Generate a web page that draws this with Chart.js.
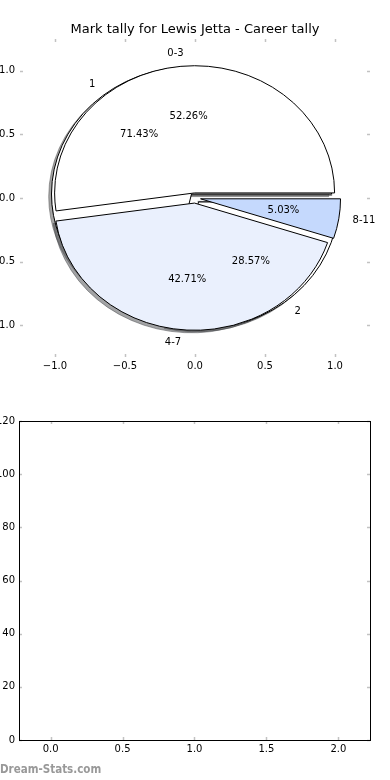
<!DOCTYPE html>
<html>
<head>
<meta charset="utf-8">
<script src="https://cdn.jsdelivr.net/npm/chart.js@4.4.0/dist/chart.umd.min.js"></script>
<style>
  html, body { margin: 0; padding: 0; background: #fff; }
  body { width: 390px; height: 780px; position: relative; overflow: hidden; }
  .panel { position: absolute; left: 0; width: 390px; height: 390px; }
  #pieWrap { top: 0; }
  #emptyWrap { top: 390px; }
  #watermark {
    position: absolute; left: 0; top: 762px;
    font-family: 'DejaVu Sans Condensed', 'DejaVu Sans';
    font-stretch: condensed; font-weight: bold; font-size: 11.5px;
    color: #999; white-space: nowrap;
  }
</style>
</head>
<body>
<div class="panel" id="pieWrap"><canvas id="pieChart" width="390" height="390"></canvas></div>
<div class="panel" id="emptyWrap"><canvas id="emptyChart" width="390" height="390"></canvas></div>
<div id="watermark">Dream-Stats.com</div>
<script>
// data
const chartTitle = 'Mark tally for Lewis Jetta - Career tally';
const markLabels = ['0-3', '4-7', '8-11'];
const markPct = [52.26, 42.71, 5.03];
const gameLabels = ['1', '2'];
const gamePct = [71.43, 28.57];
const pieTicks = [-1.0, -0.5, 0.0, 0.5, 1.0];
const emptyXTicks = [0.0, 0.5, 1.0, 1.5, 2.0];
const emptyYTicks = [0, 20, 40, 60, 80, 100, 120];

// styles
const markColors = ['#ffffff', '#eaf0fd', '#c5d9fd'];
const gameColors = ['#ffffff', '#ffffff'];
const EXPLODE = 0.04;
const SHADOW_OFF = -0.02;
const FONT = "'DejaVu Sans'";

Chart.defaults.font.family = FONT;
Chart.defaults.font.size = 10;
Chart.defaults.color = '#000';

const fmtDec = (v) => (v < 0 ? '\u2212' : '') + Math.abs(v).toFixed(1);

const buildWedges = (pct, labels, colors) => {
  let start = 0;
  return pct.map((p, i) => {
    const sweep = p / 100 * 360;
    const mid = (start + sweep / 2) * Math.PI / 180;
    const w = {
      start: start, end: start + sweep, mid: mid,
      cx: EXPLODE * Math.cos(mid), cy: EXPLODE * Math.sin(mid),
      color: colors[i], label: labels[i], pct: p,
    };
    start += sweep;
    return w;
  });
};

const wedgePath = (ctx, chart, w, ox, oy) => {
  const xs = chart.scales.x, ys = chart.scales.y;
  const px = xs.getPixelForValue(w.cx + ox);
  const py = ys.getPixelForValue(w.cy + oy);
  const rx = xs.getPixelForValue(1) - xs.getPixelForValue(0);
  const ry = ys.getPixelForValue(0) - ys.getPixelForValue(1);
  ctx.beginPath();
  ctx.moveTo(px, py);
  ctx.ellipse(px, py, rx, ry, 0, -w.start * Math.PI / 180, -w.end * Math.PI / 180, true);
  ctx.closePath();
};

const shadowColor = (hex) => {
  const n = parseInt(hex.slice(1), 16);
  const r = Math.round(((n >> 16) & 255) * 0.3);
  const g = Math.round(((n >> 8) & 255) * 0.3);
  const b = Math.round((n & 255) * 0.3);
  return 'rgba(' + r + ',' + g + ',' + b + ',0.5)';
};

const piePlugin = {
  id: 'twoPies',
  afterDatasetsDraw(chart) {
    const ctx = chart.ctx;
    const xs = chart.scales.x, ys = chart.scales.y;
    const game = buildWedges(gamePct, gameLabels, gameColors);
    const mark = buildWedges(markPct, markLabels, markColors);
    const all = game.concat(mark);
    ctx.save();
    // shadows sit under every wedge
    all.forEach((w) => {
      wedgePath(ctx, chart, w, SHADOW_OFF, SHADOW_OFF);
      ctx.fillStyle = shadowColor(w.color);
      ctx.fill();
      ctx.strokeStyle = shadowColor(w.color);
      ctx.lineWidth = 1;
      ctx.stroke();
    });
    all.forEach((w) => {
      wedgePath(ctx, chart, w, 0, 0);
      ctx.fillStyle = w.color;
      ctx.fill();
      ctx.strokeStyle = '#000';
      ctx.lineWidth = 1;
      ctx.stroke();
    });
    ctx.font = '10px ' + FONT;
    ctx.fillStyle = '#000';
    ctx.textBaseline = 'middle';
    all.forEach((w) => {
      const xt = w.cx + 1.1 * Math.cos(w.mid);
      const yt = w.cy + 1.1 * Math.sin(w.mid);
      ctx.textAlign = xt > 0 ? 'left' : 'right';
      ctx.fillText(w.label, xs.getPixelForValue(xt), ys.getPixelForValue(yt));
      const xp = w.cx + 0.6 * Math.cos(w.mid);
      const yp = w.cy + 0.6 * Math.sin(w.mid);
      ctx.textAlign = 'center';
      ctx.fillText(w.pct.toFixed(2) + '%', xs.getPixelForValue(xp), ys.getPixelForValue(yp));
    });
    ctx.restore();
  },
};

// small grey tick marks pointing into the axes, on all four sides
const innerTicks = (frame) => ({
  id: 'innerTicks',
  afterDraw(chart) {
    const ctx = chart.ctx;
    const a = chart.chartArea;
    const xs = chart.scales.x, ys = chart.scales.y;
    ctx.save();
    ctx.strokeStyle = '#c2c2c2';
    ctx.lineWidth = 1.5;
    const len = 3;
    xs.ticks.forEach((t) => {
      const p = Math.round(xs.getPixelForValue(t.value)) + 0.5;
      ctx.beginPath();
      ctx.moveTo(p, a.top); ctx.lineTo(p, a.top + len);
      ctx.moveTo(p, a.bottom); ctx.lineTo(p, a.bottom - len);
      ctx.stroke();
    });
    ys.ticks.forEach((t) => {
      const p = Math.round(ys.getPixelForValue(t.value)) + 0.5;
      ctx.beginPath();
      ctx.moveTo(a.left, p); ctx.lineTo(a.left + len, p);
      ctx.moveTo(a.right, p); ctx.lineTo(a.right - len, p);
      ctx.stroke();
    });
    if (frame) {
      ctx.strokeStyle = '#000';
      ctx.lineWidth = 1;
      ctx.strokeRect(Math.round(a.left) + 0.5, Math.round(a.top) + 0.5,
        Math.round(a.right - a.left), Math.round(a.bottom - a.top));
    }
    ctx.restore();
  },
});

new Chart(document.getElementById('pieChart'), {
  type: 'scatter',
  data: { datasets: [] },
  options: {
    responsive: false,
    animation: false,
    devicePixelRatio: 1,
    plugins: {
      legend: { display: false },
      tooltip: { enabled: false },
      title: {
        display: true,
        text: chartTitle,
        font: { size: 13, weight: 'normal' },
        color: '#000',
        padding: { top: 22, bottom: 1.4 },
      },
    },
    scales: {
      x: {
        type: 'linear', min: -1.25, max: 1.25,
        grid: { display: false, drawTicks: false },
        border: { display: false },
        afterBuildTicks: (s) => { s.ticks = pieTicks.map((v) => ({ value: v })); },
        afterFit: (s) => { s.height = 33; },
        ticks: { padding: 3, maxRotation: 0, callback: (v) => fmtDec(v) },
      },
      y: {
        type: 'linear', min: -1.25, max: 1.25,
        grid: { display: false, drawTicks: false },
        border: { display: false },
        afterBuildTicks: (s) => { s.ticks = pieTicks.map((v) => ({ value: v })); },
        afterFit: (s) => { s.width = 20; },
        ticks: { padding: 5, callback: (v) => fmtDec(v) },
      },
      // empty right-hand spacer so the title stays centred on the canvas
      y2: {
        type: 'linear', position: 'right',
        grid: { display: false, drawTicks: false },
        border: { display: false },
        ticks: { display: false },
        afterFit: (s) => { s.width = 20; },
      },
    },
  },
  plugins: [piePlugin, innerTicks(false)],
});

new Chart(document.getElementById('emptyChart'), {
  type: 'scatter',
  data: { datasets: [] },
  options: {
    responsive: false,
    animation: false,
    devicePixelRatio: 1,
    layout: { padding: { top: 31, right: 20 } },
    plugins: { legend: { display: false }, tooltip: { enabled: false } },
    scales: {
      x: {
        type: 'linear', min: -0.22, max: 2.22,
        grid: { display: false, drawTicks: false },
        border: { display: false },
        afterBuildTicks: (s) => { s.ticks = emptyXTicks.map((v) => ({ value: v })); },
        afterFit: (s) => { s.height = 40; },
        ticks: { padding: 3, maxRotation: 0, callback: (v) => fmtDec(v) },
      },
      y: {
        type: 'linear', min: 0, max: 120,
        grid: { display: false, drawTicks: false },
        border: { display: false },
        afterBuildTicks: (s) => { s.ticks = emptyYTicks.map((v) => ({ value: v })); },
        afterFit: (s) => { s.width = 19; },
        ticks: { padding: 4, callback: (v) => String(v) },
      },
    },
  },
  plugins: [innerTicks(true)],
});
</script>
</body>
</html>
